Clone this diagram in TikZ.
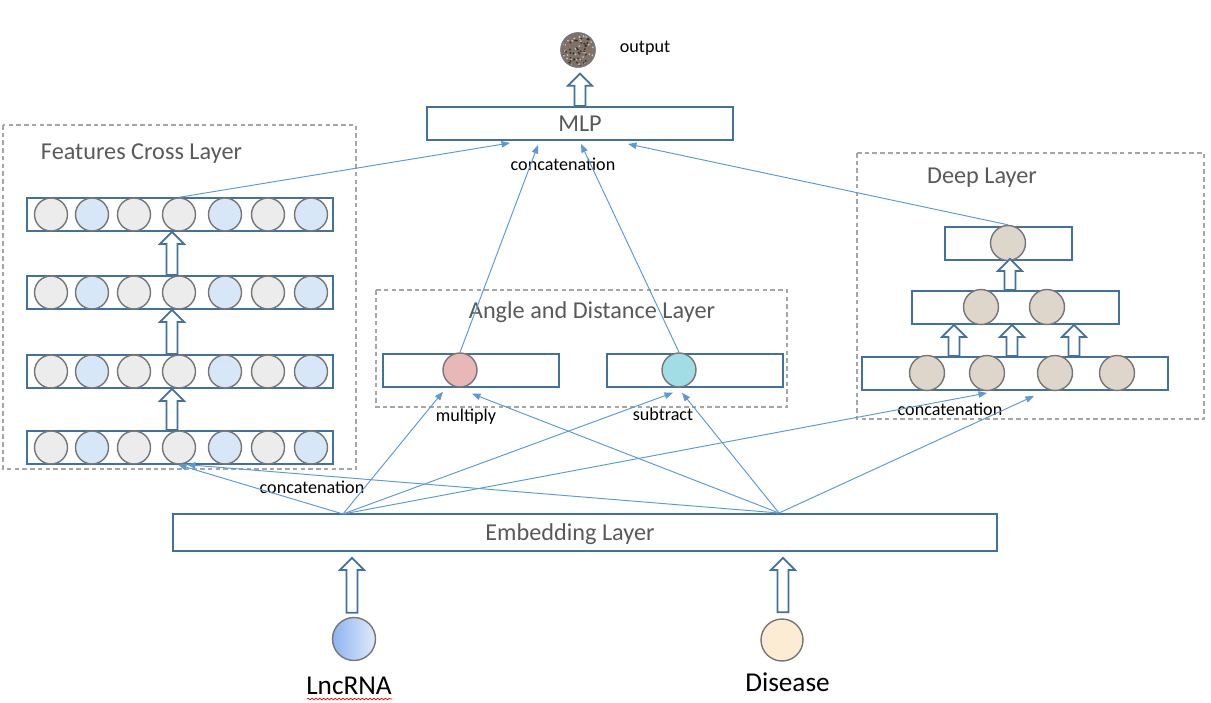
\documentclass[tikz,border=0pt]{standalone}
\usepackage{fontspec}
\setmainfont{Carlito}
\usetikzlibrary{arrows.meta,calc,decorations.pathmorphing}
\definecolor{boxblue}{RGB}{65,113,156}
\definecolor{dashgray}{RGB}{166,166,166}
\definecolor{neurongray}{RGB}{118,118,118}
\definecolor{ngrey}{RGB}{236,236,236}
\definecolor{nblue}{RGB}{216,231,248}
\definecolor{nbeige}{RGB}{222,214,202}
\definecolor{npink}{RGB}{232,184,184}
\definecolor{ncyan}{RGB}{162,221,230}
\definecolor{noutput}{RGB}{128,114,104}
\definecolor{speckA}{RGB}{60,50,45}
\definecolor{speckB}{RGB}{200,190,180}
\definecolor{connblue}{RGB}{91,155,213}
\definecolor{titlegray}{RGB}{89,89,89}
\definecolor{lncL}{RGB}{141,180,240}
\definecolor{lncR}{RGB}{224,234,250}
\definecolor{disfill}{RGB}{252,236,212}
\newcommand\blockarrow[2]{\draw[barrow] let \p1=(#1), \p2=(#2) in
  (\x1-0.11cm,\y1) -- (\x1-0.11cm,\y2-0.24cm) -- (\x1-0.24cm,\y2-0.24cm) -- (\x1,\y2)
  -- (\x1+0.24cm,\y2-0.24cm) -- (\x1+0.11cm,\y2-0.24cm) -- (\x1+0.11cm,\y1) -- cycle;}
\begin{document}
\begin{tikzpicture}[x=0.02cm,y=-0.02cm,
  box/.style={draw=boxblue, line width=1.1pt, inner sep=0pt, minimum height=0.66cm},
  dashbox/.style={draw=dashgray, line width=0.85pt, dash pattern=on 2.6pt off 1.8pt},
  neuron/.style={circle, draw=neurongray, line width=0.8pt, minimum size=0.66cm, inner sep=0pt},
  conn/.style={draw=connblue, line width=0.55pt, -{Triangle[length=0.17cm,width=0.13cm]}},
  barrow/.style={draw=boxblue, line width=1pt, fill=white, line join=miter},
  title/.style={font=\fontsize{13.8}{16}\selectfont, text=titlegray},
  small/.style={font=\fontsize{10.3}{12}\selectfont, text=black},
  big/.style={font=\fontsize{15.5}{18}\selectfont, text=black}]
\useasboundingbox (0,0) rectangle (1211,703);

% dashed layer frames
\draw[dashbox] (3,125) rectangle (356,469);
\draw[dashbox] (376,290) rectangle (787,407);
\draw[dashbox] (857,153) rectangle (1204,419);
\node[title] (tfc) at (141.5,154) {Features Cross Layer};
\node[title] (tad) at (592,312) {Angle and Distance Layer};
\node[title] (tdl) at (982,178) {Deep Layer};

% features cross layer rows
\foreach \r/\y in {1/214.5,2/292.5,3/371.5,4/447.5}{
  \node[box, minimum width=6.12cm] (f\r) at (180,\y) {};
  \foreach \c/\x/\col in {1/51/ngrey,2/92/nblue,3/134/ngrey,4/179/ngrey,5/225/nblue,6/268/ngrey,7/311/nblue}
    \node[neuron, fill=\col] (f\r c\c) at (\x,\y) {};
}
\blockarrow{$(f4.north)+(-8,0)$}{$(f3.south)+(-8,0)$}
\blockarrow{$(f3.north)+(-8,0)$}{$(f2.south)+(-8,0)$}
\blockarrow{$(f2.north)+(-8,0)$}{$(f1.south)+(-8,0)$}

% angle and distance layer
\node[box, minimum width=3.52cm] (am) at (471,370.5) {};
\node[neuron, fill=npink, minimum size=0.68cm] (mul) at (460,370) {};
\node[box, minimum width=3.52cm] (as) at (695,370.5) {};
\node[neuron, fill=ncyan, minimum size=0.68cm] (sub) at (679,370) {};
\node[small] (lmul) at (466,417) {multiply};
\node[small] (lsub) at (663,414) {subtract};

% deep layer
\node[box, minimum width=2.54cm] (d1) at (1008.5,243.5) {};
\node[neuron, fill=nbeige, minimum size=0.7cm] (d1c1) at (1008,243) {};
\node[box, minimum width=4.14cm] (d2) at (1015.5,307.5) {};
\node[neuron, fill=nbeige, minimum size=0.7cm] (d2c1) at (981,307) {};
\node[neuron, fill=nbeige, minimum size=0.7cm] (d2c2) at (1047,307) {};
\node[box, minimum width=6.12cm] (d3) at (1015,373.5) {};
\foreach \c/\x in {1/927,2/987,3/1055,4/1117}
  \node[neuron, fill=nbeige, minimum size=0.7cm] (d3c\c) at (\x,373) {};
\blockarrow{1010,0 |- d2.north}{$(1010,0 |- d1.south)+(0,-2)$}
\blockarrow{954,0 |- d3.north}{954,0 |- d2.south}
\blockarrow{1012,0 |- d3.north}{1012,0 |- d2.south}
\blockarrow{1074,0 |- d3.north}{1074,0 |- d2.south}
\node[small] (ldeep) at (950,409) {concatenation};

% MLP and output
\node[box, minimum width=6.12cm, title] (mlp) at (580,123.5) {MLP};
\node[neuron, fill=noutput, minimum size=0.68cm] (out) at (578,50) {};
\begin{scope}
  \clip (578,50) circle [radius=16];
  \pgfmathsetseed{7}
  \foreach \i in {1,...,45}{
    \fill[speckA] ({578+16*rand},{50+16*rand}) circle [radius=1.1];
    \fill[speckB] ({578+16*rand},{50+16*rand}) circle [radius=1.0];
  }
\end{scope}
\draw[neurongray, line width=0.8pt] (out.center) circle [radius=17];
\node[small] (lout) at (645,48) {output};
\blockarrow{580,0 |- mlp.north}{$(out.south)+(2,6)$}
\node[small] (lmlp) at (563,164) {concatenation};

% embedding and inputs
\node[box, minimum width=16.48cm, minimum height=0.74cm] (emb) at (585,532.5) {};
\node[title] (embt) at (570,534) {Embedding Layer};
\coordinate (eL) at (343,514);
\coordinate (eR) at (779,513);
\node[small] (lfc) at (312,487) {concatenation};

\node[circle, draw=neurongray, line width=0.8pt, minimum size=0.86cm, inner sep=0pt,
      left color=lncL, right color=lncR] (lnc) at (354,639) {};
\node[circle, draw=neurongray, line width=0.8pt, minimum size=0.84cm, inner sep=0pt,
      fill=disfill] (dis) at (782,640) {};
\node[big] (lnct) at (349,686) {LncRNA};
\node[big] (dist) at (787.5,682) {Disease};
\draw[red, line width=0.4pt, decorate, decoration={snake, amplitude=0.45pt, segment length=2.2pt}]
  (307,699) -- (392,699);
\blockarrow{$(lnc.north)+(-2,-4)$}{$(lnc |- emb.south)+(0,6)$}
\blockarrow{$(dis.north)+(1,-6)$}{$(dis |- emb.south)+(0,6)$}

% connectors
\draw[conn] (f1c4.north) -- ($(mlp.south)+(-70,2)$);
\draw[conn] (mul.north) -- ($(mlp.south)+(-42,4)$);
\draw[conn] (sub.north) -- ($(mlp.south)+(1,3)$);
\draw[conn] (d1c1.north) -- ($(mlp.south)+(48,3)$);
\draw[conn] (eL) -- ($(f4c4.south)+(-1,0)$);
\draw[conn] (eR) -- ($(f4c4.south)+(8,0)$);
\draw[conn] (eL) -- ($(mul.south)+(-17,4)$);
\draw[conn] (eR) -- ($(mul.south)+(12,6)$);
\draw[conn] (eL) -- ($(sub.south)+(-6,5)$);
\draw[conn] (eR) -- ($(sub.south)+(3,5)$);
\draw[conn] (eL) -- ($(d3.south)+(-28,2)$);
\draw[conn] (eR) -- ($(d3.south)+(19,5)$);
\end{tikzpicture}
\end{document}
